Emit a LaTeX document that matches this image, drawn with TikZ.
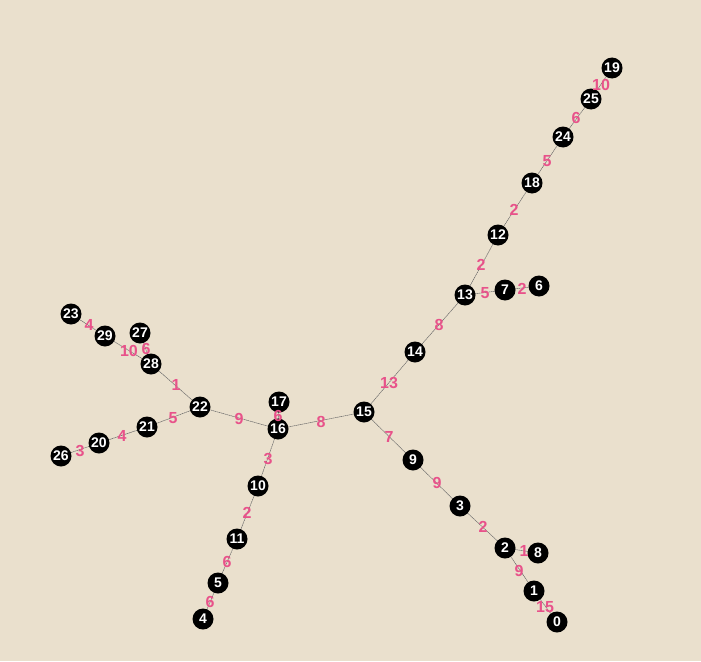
\documentclass[tikz,border=0pt]{standalone}
\usepackage{fontspec}
\setmainfont{Liberation Sans}
\definecolor{bg}{HTML}{EAE0CD}
\definecolor{wt}{HTML}{E8528A}
\begin{document}
\begin{tikzpicture}[x=1pt,y=-1pt,
  vtx/.style={circle,fill=black,inner sep=0pt,minimum size=21pt,text=white,font=\bfseries\fontsize{14}{14}\selectfont},
  edg/.style={draw=black!60,line width=0.5pt,dash pattern=on 1.5pt off 0.5pt},
  wlab/.style={text=wt,font=\bfseries\fontsize{16}{16}\selectfont,inner sep=0pt}]
\fill[bg] (0,0) rectangle (701,661);
\useasboundingbox (0,0) rectangle (701,661);
\foreach \n/\x/\y in {19/612/68,25/591/99,24/563/137,18/532/183,12/498/235,13/465/295,7/505/290,6/539/286,14/415/352,15/364/412,16/278/429,17/279/402,22/200/407,28/151/364,27/140/333,29/105/336,23/71/314,21/147/427,20/99/443,26/61/456,10/258/486,11/237/539,5/218/583,4/203/619,9/413/460,3/460/506,2/505/548,8/538/553,1/534/591,0/557/622}
  \coordinate (c\n) at (\x,\y);
\foreach \a/\b in {19/25,25/24,24/18,18/12,12/13,13/7,7/6,13/14,14/15,15/16,16/17,16/22,22/28,28/29,28/27,29/23,22/21,21/20,20/26,16/10,10/11,11/5,5/4,15/9,9/3,3/2,2/8,2/1,1/0}
  \draw[edg] (c\a) -- (c\b);
\foreach \n in {19,25,24,18,12,13,7,6,14,15,16,17,22,28,27,29,23,21,20,26,10,11,5,4,9,3,2,8,1,0}
  \node[vtx] (n\n) at (c\n) {\n};
\foreach \t/\x/\y in {10/601/85,6/576/118,5/547/161,2/514/210,2/481/265,5/485/293,2/522/289,8/439/325,13/389/383,8/321/422,6/278/416,9/239/419,1/176/385,10/129/351,6/146/349,4/89/325,5/173/418,4/122/436,3/80/451,3/268/459,2/247/513,6/227/562,6/210/602,7/389/437,9/437/483,2/483/527,1/524/551,9/519/571,15/545/607}
  \node[wlab] at (\x,\y) {\t};
\end{tikzpicture}
\end{document}
